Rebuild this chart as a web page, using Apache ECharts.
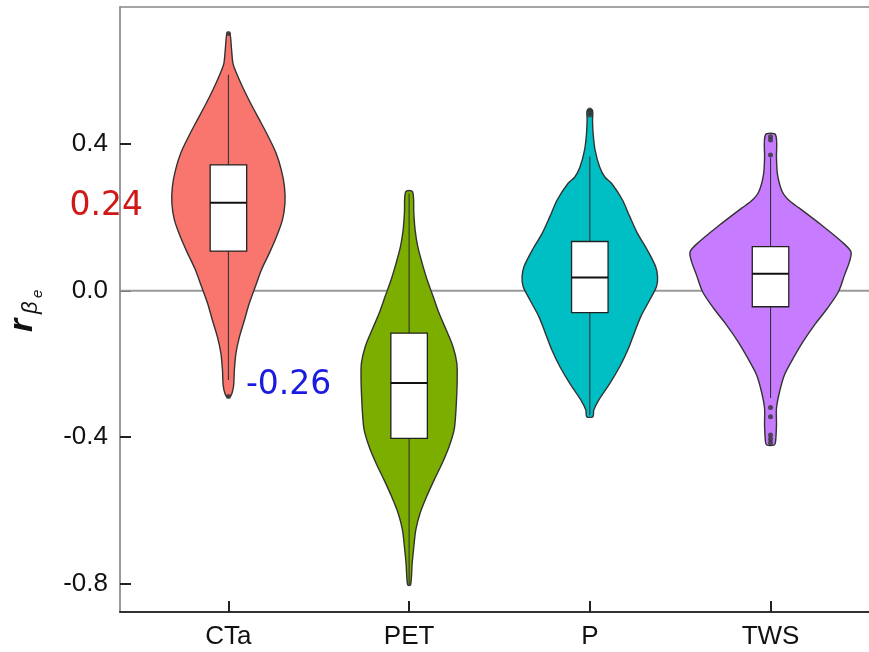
<!DOCTYPE html>
<html><head><meta charset="utf-8">
<script src="https://cdn.jsdelivr.net/npm/echarts@6/dist/echarts.min.js"></script>
<style>html,body{margin:0;padding:0;background:#fff}#c{width:869px;height:652px}</style>
</head><body><div id="c"></div>
<script>
// ---------------- data ----------------
const categories = ['CTa', 'PET', 'P', 'TWS'];
const yTickValues = [-0.8, -0.4, 0, 0.4];

// violin profiles: [value, half-width (category units)]
const violinCTa = [[0.702,0.008],[0.66,0.017],[0.62,0.025],[0.60,0.039],[0.557,0.077],[0.512,0.122],[0.466,0.172],[0.420,0.221],[0.376,0.263],[0.329,0.293],[0.284,0.310],[0.239,0.313],[0.193,0.299],[0.147,0.266],[0.103,0.227],[0.057,0.183],[0.011,0.149],[-0.034,0.116],[-0.080,0.089],[-0.126,0.061],[-0.170,0.042],[-0.216,0.033],[-0.262,0.028],[-0.289,0.011]];
const violinPET = [[0.270,0.019],[0.211,0.026],[0.166,0.033],[0.120,0.048],[0.075,0.072],[0.029,0.100],[-0.016,0.133],[-0.062,0.166],[-0.107,0.205],[-0.153,0.243],[-0.198,0.264],[-0.244,0.266],[-0.289,0.263],[-0.335,0.258],[-0.380,0.249],[-0.426,0.221],[-0.471,0.183],[-0.517,0.138],[-0.562,0.097],[-0.607,0.061],[-0.653,0.037],[-0.699,0.026],[-0.744,0.017],[-0.803,0.008]];
const violinP = [[0.493,0.014],[0.466,0.015],[0.430,0.018],[0.384,0.029],[0.338,0.054],[0.310,0.083],[0.293,0.120],[0.248,0.180],[0.202,0.221],[0.157,0.263],[0.111,0.318],[0.066,0.364],[0.038,0.375],[0.011,0.369],[-0.025,0.332],[-0.071,0.282],[-0.116,0.246],[-0.162,0.210],[-0.207,0.166],[-0.253,0.111],[-0.298,0.050],[-0.326,0.022],[-0.344,0.017]];
const violinTWS = [[0.425,0.028],[0.361,0.033],[0.316,0.039],[0.270,0.065],[0.245,0.105],[0.225,0.160],[0.179,0.282],[0.134,0.393],[0.106,0.445],[0.079,0.437],[0.043,0.410],[-0.003,0.376],[-0.048,0.315],[-0.094,0.243],[-0.139,0.180],[-0.185,0.125],[-0.230,0.077],[-0.276,0.050],[-0.321,0.033],[-0.367,0.033],[-0.412,0.028],[-0.421,0.022]];

// box stats: [lower whisker, Q1, median, Q3, upper whisker]
const boxCTa = [-0.244, 0.108, 0.240, 0.343, 0.589];
const boxPET = [-0.803, -0.403, -0.252, -0.116, 0.265];
const boxP   = [-0.340, -0.060, 0.036, 0.134, 0.366];
const boxTWS = [-0.293, -0.044, 0.046, 0.120, 0.362];

// outliers
const outliersCTa = [0.702, -0.289];
const outliersPET = [];
const outliersP   = [0.493, 0.486, 0.479];
const outliersTWS = [0.420, 0.411, 0.370, -0.319, -0.344, -0.394, -0.405, -0.415];

// annotated medians
const annotationTexts  = ['0.24', '-0.26'];
const annotationValues = [0.24, -0.26];

// ---------------- chart ----------------
const violins = [violinCTa, violinPET, violinP, violinTWS];
const boxes = [boxCTa, boxPET, boxP, boxTWS];
const outlierLists = [outliersCTa, outliersPET, outliersP, outliersTWS];
const fills = ['#F8766D', '#7CAE00', '#00BFC4', '#C77CFF'];
const boxHalf = 0.101;
const xMin = 0.4, xMax = 4.545;

const outlierData = [];
outlierLists.forEach((l, i) => l.forEach(v => outlierData.push([i + 1, v])));

const chart = echarts.init(document.getElementById('c'), null, {renderer: 'canvas'});

const option = {
  backgroundColor: '#fff',
  animation: false,
  grid: {left: 120, right: 0, top: 7, bottom: 40, show: false},
  xAxis: [{
    type: 'value', position: 'bottom', min: xMin, max: xMax,
    splitLine: {show: false},
    axisLine: {show: true, onZero: false, lineStyle: {color: '#333', width: 2}},
    axisTick: {show: true, inside: true, length: 11, customValues: [1, 2, 3, 4], lineStyle: {color: '#222', width: 2}},
    axisLabel: {customValues: [1, 2, 3, 4], formatter: v => categories[Math.round(v) - 1], fontFamily: 'Liberation Sans', fontSize: 26, color: '#111', margin: 12}
  }, {
    type: 'value', position: 'top', min: xMin, max: xMax,
    splitLine: {show: false},
    axisLine: {show: true, onZero: false, lineStyle: {color: '#888', width: 1.5}},
    axisTick: {show: false}, axisLabel: {show: false}
  }],
  yAxis: {
    type: 'value', min: -0.877, max: 0.774,
    splitLine: {show: false},
    axisLine: {show: true, onZero: false, lineStyle: {color: '#777', width: 1.5}},
    axisTick: {show: true, inside: true, length: 11, customValues: yTickValues, lineStyle: {color: '#222', width: 2}},
    axisLabel: {customValues: yTickValues, formatter: v => v.toFixed(1), fontFamily: 'Liberation Sans', fontSize: 26, color: '#111', margin: 12}
  },
  graphic: [{
    type: 'group', x: 33, y: 332, rotation: Math.PI / 2,
    children: [
      {type: 'text', x: 0, y: -10, style: {text: 'r', font: 'italic bold 34px "Liberation Sans"', fill: '#111', align: 'left', verticalAlign: 'middle'}},
      {type: 'text', x: 18, y: -2, style: {text: 'β', font: 'italic 22px "Liberation Sans"', fill: '#111', align: 'left', verticalAlign: 'middle'}},
      {type: 'text', x: 34, y: 5, style: {text: 'e', font: 'italic 15px "Liberation Sans"', fill: '#111', align: 'left', verticalAlign: 'middle'}}
    ]
  }],
  series: [
    {
      type: 'line', z: 1, silent: true, symbol: 'none',
      data: [[xMin, 0], [xMax, 0]],
      lineStyle: {color: '#999', width: 2}
    },
    {
      type: 'custom', z: 2, silent: true,
      data: categories.map((c, i) => [i]),
      renderItem: (params, api) => {
        const i = api.value(0);
        const cx = i + 1;
        const prof = violins[i];
        const pts = [];
        prof.forEach(([v, hw]) => pts.push(api.coord([cx + hw, v])));
        for (let k = prof.length - 1; k >= 0; k--) pts.push(api.coord([cx - prof[k][1], prof[k][0]]));
        const b = boxes[i];
        const tl = api.coord([cx - boxHalf, b[3]]);
        const br = api.coord([cx + boxHalf, b[1]]);
        const c = api.coord([cx, 0])[0];
        const ml = api.coord([cx - boxHalf, b[2]]);
        const mr = api.coord([cx + boxHalf, b[2]]);
        return {
          type: 'group',
          children: [
            {type: 'polygon', shape: {points: pts, smooth: 0.3}, style: {fill: fills[i], stroke: '#333', lineWidth: 1.4}},
            {type: 'line', shape: {x1: c, y1: api.coord([cx, b[4]])[1], x2: c, y2: api.coord([cx, b[0]])[1]}, style: {stroke: '#333', lineWidth: 1.1}},
            {type: 'rect', shape: {x: tl[0], y: tl[1], width: br[0] - tl[0], height: br[1] - tl[1]}, style: {fill: '#fff', stroke: '#222', lineWidth: 1.3}},
            {type: 'line', shape: {x1: ml[0], y1: ml[1], x2: mr[0], y2: mr[1]}, style: {stroke: '#111', lineWidth: 2}}
          ]
        };
      }
    },
    {
      type: 'scatter', z: 3, silent: true, symbol: 'circle', symbolSize: 5,
      itemStyle: {color: '#333'},
      data: outlierData
    },
    {
      type: 'custom', z: 4, silent: true,
      data: annotationValues.map((v, i) => [i, v]),
      renderItem: (params, api) => {
        const i = api.value(0);
        const v = api.value(1);
        const cfg = [
          {x: 0.527, dy: 4, align: 'right', color: '#d01818'},
          {x: 1.097, dy: 0, align: 'left', color: '#1a1ae0'}
        ][i];
        const p = api.coord([cfg.x, v]);
        return {
          type: 'text', x: p[0], y: p[1] + cfg.dy,
          style: {text: annotationTexts[i], font: '33px "DejaVu Sans"', fill: cfg.color, align: cfg.align, verticalAlign: 'middle'}
        };
      }
    }
  ]
};
chart.setOption(option);
</script>
</body></html>
